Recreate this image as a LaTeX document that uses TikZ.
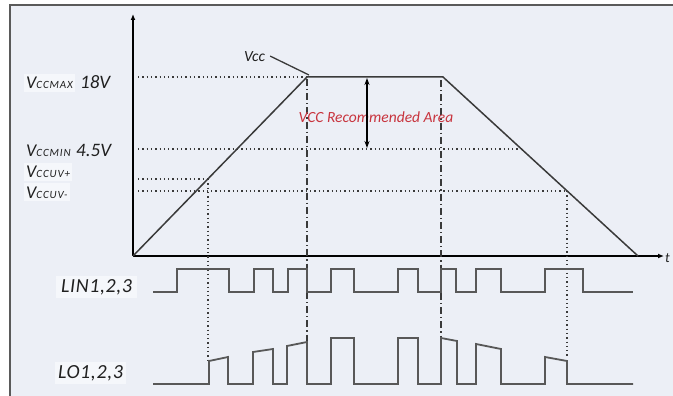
\documentclass[tikz,border=0pt]{standalone}
\usepackage{fontspec}
\setmainfont{Carlito}
\usetikzlibrary{arrows.meta}
\definecolor{bgc}{HTML}{ECEFF6}
\definecolor{boxc}{HTML}{F5F7FB}
\definecolor{framec}{HTML}{5A5A5A}
\definecolor{wavec}{HTML}{585858}
\definecolor{trapc}{HTML}{3A3A3A}
\definecolor{redc}{HTML}{C8343E}
\definecolor{txtc}{HTML}{202020}
\newcommand{\bigV}{{\fontsize{18}{18}\selectfont V}}
\newcommand{\subtxt}[1]{{\fontsize{11}{11}\selectfont\addfontfeatures{LetterSpace=8}#1}}
\begin{document}
\begin{tikzpicture}[x=1pt,y=-1pt,
  axisline/.style={black,line width=2.2pt,-{Latex[length=6pt,width=5pt]}},
  trapline/.style={trapc,line width=1.5pt,line join=miter},
  waveline/.style={wavec,line width=1.8pt},
  dotline/.style={trapc,line width=1.4pt,dash pattern=on 1.3pt off 3pt},
  dashdotline/.style={trapc,line width=1.3pt,dash pattern=on 7pt off 3pt on 1.2pt off 3pt},
  lbl/.style={inner sep=0pt,text=txtc,font=\itshape,anchor=base west},
  boxlbl/.style={lbl,fill=boxc,inner xsep=2pt,inner ysep=3pt},
  biglbl/.style={font=\itshape\fontsize{20}{20}\selectfont\addfontfeatures{LetterSpace=3}},
  every node/.style={inner sep=0pt}]
\useasboundingbox (0,0) rectangle (673,396);
\fill[bgc] (10,5) rectangle (673,396);
\draw[framec,line width=1.6pt] (10,397) -- (10,5) -- (674,5);

% axes
\coordinate (O) at (133,256);
\coordinate (ytop) at (133,14);
\coordinate (xend) at (664,256);
\draw[axisline] (O) -- (ytop);
\draw[axisline] (O) -- (xend);
\node[lbl,font=\itshape\fontsize{14}{14}\selectfont] (tlbl) at (665,262) {t};

% trapezoid corners
\coordinate (P1) at (307,77);
\coordinate (P2) at (443,77);
\coordinate (P3) at (638,256);
% intersections
\coordinate (A18) at (138,77);
\coordinate (A45) at (138,149);
\coordinate (B45) at (521,149);
\coordinate (Aup) at (138,179);
\coordinate (Bup) at (208,179);
\coordinate (Aun) at (138,191);
\coordinate (Bun) at (567,191);
\coordinate (Lup) at (208,361);
\coordinate (Lun) at (567,357);
\coordinate (D1t) at (307,79);
\coordinate (D1b) at (307,342);
\coordinate (D2t) at (441,80);
\coordinate (D2b) at (441,338);

% dotted guides
\draw[dotline] (A18) -- (P1);
\draw[dotline] (A45) -- (B45);
\draw[dotline] (Aup) -- (Bup);
\draw[dotline] (Aun) -- (Bun);
\draw[dotline] (Bup) -- (Lup);
\draw[dotline] (Bun) -- (Lun);
\draw[dashdotline] (D1t) -- (D1b);
\draw[dashdotline] (D2t) -- (D2b);

% VCC curve
\draw[trapline] (O) -- (P1) -- (P2) -- (P3);

% labels
\node[lbl,font=\itshape\fontsize{15.5}{15.5}\selectfont] (vcc) at (244,62) {Vcc};
\coordinate (vccend) at (309,75);
\draw[trapc,line width=1.3pt] ([xshift=5pt,yshift=1pt]vcc.east) -- (vccend);

\node[redc,font=\itshape\fontsize{15.5}{15.5}\selectfont,anchor=base] (rec) at (376,123) {VCC Recommended Area};
\coordinate (ArT) at (367,78);
\coordinate (ArB) at (367,148);
\draw[black,line width=1.6pt,{Stealth[length=7pt,width=5pt]}-{Stealth[length=7pt,width=5pt]}] (ArT) -- (ArB);

\node[boxlbl] (vmax) at (24,89) {\bigV\subtxt{CCMAX}};
\node[lbl,font=\itshape\fontsize{19}{19}\selectfont] (v18) at (80,89) {18V};
\node[lbl] (vmin) at (26,157) {\bigV\subtxt{CCMIN}};
\node[lbl,font=\itshape\fontsize{19}{19}\selectfont] (v45) at (76,157) {4.5V};
\node[boxlbl] (vuvp) at (24,178) {\bigV\subtxt{CCUV+}};
\node[boxlbl] (vuvn) at (24,198) {\bigV\subtxt{CCUV-}};
\node[boxlbl,biglbl,inner xsep=5pt] (lin) at (56,292) {LIN1,2,3};
\node[boxlbl,biglbl,inner xsep=3pt] (lo) at (55,378) {LO1,2,3};

% LIN waveform
\draw[waveline] (153,292) -- (177,292) -- (177,269) -- (229,269) -- (229,292) -- (254,292) -- (254,269) -- (273,269) -- (273,292) -- (288,292) -- (288,269) -- (307,269) -- (307,292) -- (331,292) -- (331,269) -- (354,269) -- (354,292) -- (398,292) -- (398,269) -- (418,269) -- (418,292) -- (441,292) -- (441,269) -- (456,269) -- (456,292) -- (476,292) -- (476,269) -- (501,269) -- (501,292) -- (545,292) -- (545,269) -- (583,269) -- (583,292) -- (633,292);

% LO waveform
\draw[waveline] (153,384) -- (209,384) -- (209,361) -- (228,357) -- (228,384) -- (253,384) -- (253,352) -- (273,349) -- (273,384) -- (287,384) -- (287,346) -- (307,342) -- (307,384) -- (331,384) -- (331,338) -- (354,338) -- (354,384) -- (398,384) -- (398,338) -- (418,338) -- (418,384) -- (441,384) -- (441,338) -- (457,341) -- (457,384) -- (476,384) -- (476,344) -- (501,349) -- (501,384) -- (545,384) -- (545,357) -- (567,361) -- (567,384) -- (633,384);
\end{tikzpicture}
\end{document}
